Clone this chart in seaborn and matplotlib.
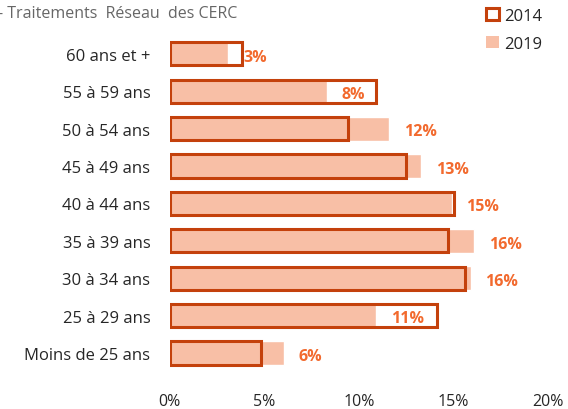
import pandas as pd
import numpy as np
import matplotlib.pyplot as plt
import seaborn as sns
from matplotlib.patches import Patch

sns.set_style("white")
plt.rcParams['font.family'] = ['Open Sans', 'DejaVu Sans']

# Data (share of treatments per age group, %)
age_groups = ['60 ans et +', '55 à 59 ans', '50 à 54 ans', '45 à 49 ans', '40 à 44 ans',
              '35 à 39 ans', '30 à 34 ans', '25 à 29 ans', 'Moins de 25 ans']
share_2014 = [3.8, 10.9, 9.4, 12.5, 15.0, 14.7, 15.6, 14.1, 4.8]
share_2019 = [3.1, 8.3, 11.6, 13.3, 14.9, 16.1, 15.9, 10.9, 6.05]
x_ticks = [0, 5, 10, 15, 20]

df = pd.DataFrame({'age': age_groups, '2014': share_2014, '2019': share_2019})

edge_col = '#C4410C'
fill_col = '#F8BFA6'
label_col = '#F26A2E'

fig = plt.figure(figsize=(5.68, 4.10), dpi=100)
ax = fig.add_axes([0.299, 0.091, 0.666, 0.821])

# 2019 filled bars
sns.barplot(data=df, x='2019', y='age', orient='h', color=fill_col,
            width=0.64, saturation=1, ax=ax)
# 2014 outlined bars
sns.barplot(data=df, x='2014', y='age', orient='h', fill=False,
            edgecolor=edge_col, linewidth=2.2, width=0.62, ax=ax)

# value labels (2019)
for i, v in enumerate(share_2019):
    ax.annotate(f'{v:.0f}%', xy=(v, i), xytext=(10.5, -2), textcoords='offset points',
                ha='left', va='center', color=label_col, fontsize=11.5, fontweight='bold')

ax.set_xlim(0, 20)
ax.set_xticks(x_ticks)
ax.set_xticklabels([f'{t}%' for t in x_ticks])
ax.set_xlabel('')
ax.set_ylabel('')
ax.tick_params(axis='x', length=0, pad=15, labelsize=11.5)
ax.tick_params(axis='y', length=0, pad=14, labelsize=12)
for s in ax.spines.values():
    s.set_visible(False)
ax.grid(False)

fig.text(-0.003, 0.965, '- Traitements  Réseau  des CERC', color='#666666', fontsize=11.5,
         ha='left', va='center')

handles = [Patch(facecolor='white', edgecolor=edge_col, linewidth=2.2, label='2014'),
           Patch(facecolor=fill_col, edgecolor='none', label='2019')]
fig.legend(handles=handles, loc='upper left', bbox_to_anchor=(0.83, 1.015), frameon=False,
           fontsize=12, handlelength=0.75, handleheight=0.75, handletextpad=0.3,
           labelspacing=0.7)

plt.savefig('out.png', dpi=100)
